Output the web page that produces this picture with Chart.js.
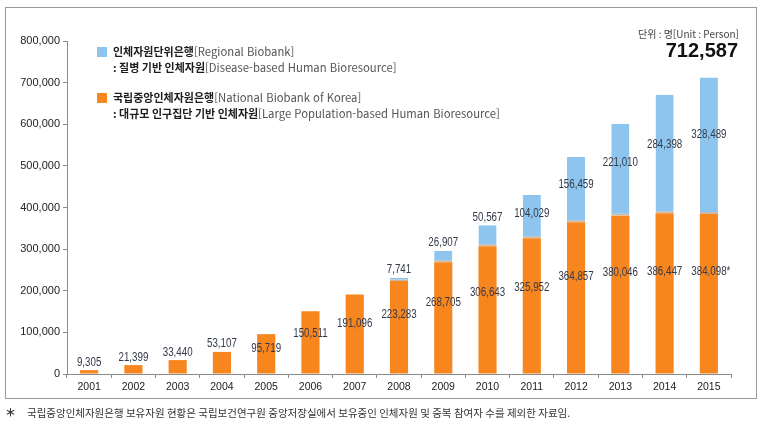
<!DOCTYPE html>
<html lang="ko">
<head>
<meta charset="utf-8">
<title>인체자원 보유 현황</title>
<script src="https://cdn.jsdelivr.net/npm/chart.js@4/dist/chart.umd.min.js"></script>
<style>
    html, body { margin: 0; padding: 0; background: #fff; }
    #wrap { width: 761px; height: 430px; }
</style>
</head>
<body>
<div id="wrap"><canvas id="bioChart" width="761" height="430"></canvas></div>
<script>
const years = ['2001', '2002', '2003', '2004', '2005', '2006', '2007', '2008',
    '2009', '2010', '2011', '2012', '2013', '2014', '2015'];

// 국립중앙인체자원은행 (National Biobank of Korea)
const nationalBiobank = [9305, 21399, 33440, 53107, 95719, 150511, 191096, 223283,
    268705, 306643, 325952, 364857, 380046, 386447, 384098];

// 인체자원단위은행 (Regional Biobank)
const regionalBiobank = [null, null, null, null, null, null, null, 7741,
    26907, 50567, 104029, 156459, 221010, 284398, 328489];

const legendItems = [
    { ko: '인체자원단위은행', en: '[Regional Biobank]', ko2: ': 질병 기반 인체자원', en2: '[Disease-based Human Bioresource]' },
    { ko: '국립중앙인체자원은행', en: '[National Biobank of Korea]', ko2: ': 대규모 인구집단 기반 인체자원', en2: '[Large Population-based Human Bioresource]' }
];

const unitText = '단위 : 명[Unit : Person]';
const footnote = '국립중앙인체자원은행 보유자원 현황은 국립보건연구원 중앙저장실에서 보유중인 인체자원 및 중복 참여자 수를 제외한 자료임.';

const COLORS = {
    national: '#f7861f',
    regional: '#8ec5ef',
    label: '#343a4a',
    axis: '#8c8c8c'
};

const NUM_FONT = '"Liberation Sans", Arial, sans-serif';
const KR_FONT = '"Noto Sans CJK KR", "Noto Sans", sans-serif';

const fmt = (v) => v.toLocaleString('en-US');

// narrow text: the original uses a condensed face, so squeeze it horizontally
const drawNarrow = (ctx, text, x, y, squeeze) => {
    ctx.save();
    ctx.translate(x, y);
    ctx.scale(squeeze, 1);
    ctx.fillText(text, 0, 0);
    ctx.restore();
};

// frame, legend, unit and footnote
const decorPlugin = {
    id: 'decor',
    beforeDraw: (chart) => {
        const ctx = chart.ctx;
        ctx.save();
        ctx.fillStyle = '#fff';
        ctx.fillRect(0, 0, chart.width, chart.height);
        ctx.strokeStyle = '#9a9a9a';
        ctx.lineWidth = 1;
        ctx.strokeRect(5.5, 7.5, 751, 391);
        ctx.restore();
    },
    afterDraw: (chart) => {
        const ctx = chart.ctx;
        ctx.save();
        ctx.textBaseline = 'middle';

        const swatches = [COLORS.regional, COLORS.national];
        const rows = [52, 98];
        legendItems.forEach((item, i) => {
            const y = rows[i];
            ctx.fillStyle = swatches[i];
            ctx.fillRect(97, y - 5, 10, 10);

            ctx.textAlign = 'left';
            ctx.font = 'bold 11px ' + KR_FONT;
            ctx.fillStyle = '#1c1c1c';
            ctx.fillText(item.ko, 113, y);
            let w = ctx.measureText(item.ko).width;
            ctx.font = '11.3px ' + KR_FONT;
            ctx.fillStyle = '#555';
            ctx.fillText(item.en, 113 + w, y);

            ctx.font = 'bold 11px ' + KR_FONT;
            ctx.fillStyle = '#1c1c1c';
            ctx.fillText(item.ko2, 113, y + 16);
            w = ctx.measureText(item.ko2).width;
            ctx.font = '11.3px ' + KR_FONT;
            ctx.fillStyle = '#555';
            ctx.fillText(item.en2, 113 + w, y + 16);
        });

        ctx.font = '10px ' + KR_FONT;
        ctx.fillStyle = '#444';
        ctx.textAlign = 'right';
        ctx.fillText(unitText, 739, 34);

        ctx.textAlign = 'left';
        ctx.font = 'bold 11px ' + KR_FONT;
        ctx.fillStyle = '#333';
        ctx.fillText('＊', 5, 413);
        ctx.font = '10.5px ' + KR_FONT;
        ctx.fillText(footnote, 27, 413);
        ctx.restore();
    }
};

// value labels on the bars
const valueLabelPlugin = {
    id: 'valueLabels',
    afterDatasetsDraw: (chart) => {
        const ctx = chart.ctx;
        const yScale = chart.scales.y;
        const natBars = chart.getDatasetMeta(0).data;
        const regBars = chart.getDatasetMeta(1).data;
        const last = years.length - 1;

        ctx.save();
        ctx.font = '12.5px ' + NUM_FONT;
        ctx.fillStyle = COLORS.label;
        ctx.textAlign = 'center';
        ctx.textBaseline = 'middle';

        nationalBiobank.forEach((v, i) => {
            const bar = natBars[i];
            const y = v < 60000 ? bar.y - 8 : yScale.getPixelForValue(v * 0.64);
            const text = fmt(v) + (i === last ? '*' : '');
            drawNarrow(ctx, text, bar.x + (i === last ? 2 : 0), y, 0.78);
        });

        regionalBiobank.forEach((v, i) => {
            if (v == null) return;
            const bar = regBars[i];
            const y = v < 60000 ? bar.y - 8 : yScale.getPixelForValue(nationalBiobank[i] + v * 0.58);
            drawNarrow(ctx, fmt(v), bar.x, y, 0.78);
        });

        // total on the last bar
        const total = nationalBiobank[last] + regionalBiobank[last];
        ctx.font = 'bold 20px ' + NUM_FONT;
        ctx.fillStyle = '#111';
        ctx.textBaseline = 'alphabetic';
        ctx.fillText(fmt(total), regBars[last].x - 7, regBars[last].y - 20);
        ctx.restore();
    }
};

const chart = new Chart(document.getElementById('bioChart').getContext('2d'), {
    type: 'bar',
    data: {
        labels: years,
        datasets: [
            {
                label: legendItems[1].ko,
                data: nationalBiobank,
                backgroundColor: COLORS.national,
                borderWidth: 0,
                barPercentage: 0.41,
                categoryPercentage: 1
            },
            {
                label: legendItems[0].ko,
                data: regionalBiobank,
                backgroundColor: COLORS.regional,
                borderColor: '#cbb9a6',
                borderWidth: { top: 0, left: 0, right: 0, bottom: 2 },
                borderSkipped: false,
                barPercentage: 0.41,
                categoryPercentage: 1
            }
        ]
    },
    options: {
        responsive: false,
        animation: false,
        layout: { padding: { left: 5, right: 30, top: 41, bottom: 28 } },
        plugins: {
            legend: { display: false },
            tooltip: { enabled: false }
        },
        scales: {
            x: {
                stacked: true,
                offset: true,
                afterFit: (scale) => { scale.height = 28; },
                grid: {
                    offset: true,
                    drawOnChartArea: false,
                    drawTicks: true,
                    tickLength: 4,
                    color: COLORS.axis
                },
                border: { color: COLORS.axis, width: 1 },
                ticks: {
                    padding: 3,
                    color: '#222',
                    font: { family: NUM_FONT, size: 10.5 }
                }
            },
            y: {
                stacked: true,
                min: 0,
                max: 800000,
                afterFit: (scale) => { scale.width = 62; },
                grid: {
                    drawOnChartArea: false,
                    drawTicks: true,
                    tickLength: 4,
                    color: COLORS.axis
                },
                border: { color: COLORS.axis, width: 1 },
                ticks: {
                    stepSize: 100000,
                    padding: 3,
                    color: '#222',
                    font: { family: NUM_FONT, size: 11 },
                    callback: (value) => fmt(value)
                }
            }
        }
    },
    plugins: [decorPlugin, valueLabelPlugin]
});
</script>
</body>
</html>
